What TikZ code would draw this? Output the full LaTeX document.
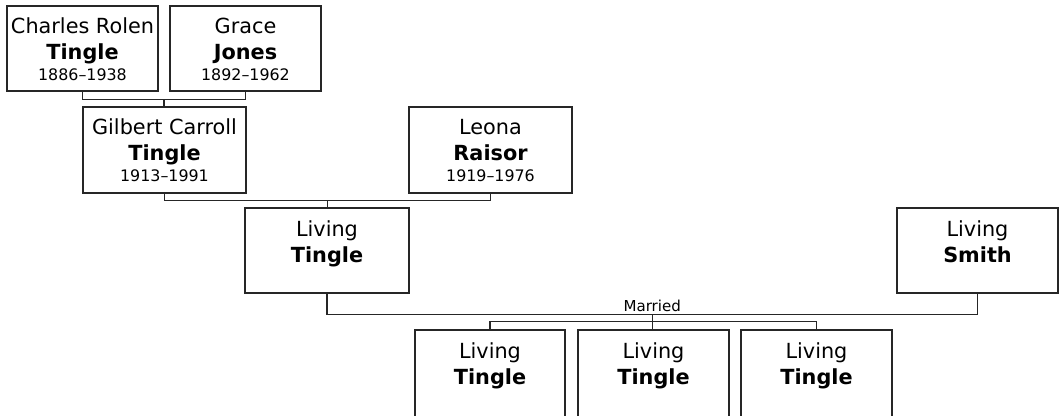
\documentclass[tikz,border=0pt]{standalone}
\usepackage{fontspec}
\setmainfont{DejaVu Sans}
\usetikzlibrary{fit,calc}
\begin{document}
\begin{tikzpicture}[x=0.75pt,y=-0.75pt,
  box/.style={draw=black!85, line width=0.8pt, inner sep=0pt},
  conn/.style={draw=black!85, line width=0.8pt},
  given/.style={font=\fontsize{15.6}{18}\selectfont, anchor=base, inner sep=0pt},
  surname/.style={font=\bfseries\fontsize{15.6}{18}\selectfont, anchor=base, inner sep=0pt},
  years/.style={font=\fontsize{11.9}{14}\selectfont, anchor=base, inner sep=0pt},
  small/.style={font=\fontsize{11.3}{13}\selectfont, anchor=base, inner sep=0pt}]
\clip (0,0) rectangle (1062,415);
\fill[white] (0,0) rectangle (1062,415);

% boxes
\node[box, fit={(7,6) (158,91)}] (charles) {};
\node[box, fit={(170,6) (321,91)}] (grace) {};
\node[box, fit={(83,107) (246,193)}] (gilbert) {};
\node[box, fit={(409,107) (572,193)}] (leona) {};
\node[box, fit={(245,208) (409,293)}] (living) {};
\node[box, fit={(897,208) (1058,293)}] (smith) {};
\node[box, fit={(415,330) (565,417)}] (kid1) {};
\node[box, fit={(578,330) (729,417)}] (kid2) {};
\node[box, fit={(741,330) (892,417)}] (kid3) {};

% texts
\node[given]   (charles-g) at ($(charles.north)+(0,28)$) {Charles Rolen};
\node[surname] (charles-s) at ($(charles.north)+(0,54)$) {Tingle};
\node[years]   (charles-y) at ($(charles.north)+(0,75)$) {1886–1938};

\node[given]   (grace-g) at ($(grace.north)+(0,28)$) {Grace};
\node[surname] (grace-s) at ($(grace.north)+(0,54)$) {Jones};
\node[years]   (grace-y) at ($(grace.north)+(0,75)$) {1892–1962};

\node[given]   (gilbert-g) at ($(gilbert.north)+(0,28)$) {Gilbert Carroll};
\node[surname] (gilbert-s) at ($(gilbert.north)+(0,54)$) {Tingle};
\node[years]   (gilbert-y) at ($(gilbert.north)+(0,75)$) {1913–1991};

\node[given]   (leona-g) at ($(leona.north)+(0,28)$) {Leona};
\node[surname] (leona-s) at ($(leona.north)+(0,54)$) {Raisor};
\node[years]   (leona-y) at ($(leona.north)+(0,75)$) {1919–1976};

\node[given]   (living-g) at ($(living.north)+(0,29)$) {Living};
\node[surname] (living-s) at ($(living.north)+(0,55)$) {Tingle};

\node[given]   (smith-g) at ($(smith.north)+(0,29)$) {Living};
\node[surname] (smith-s) at ($(smith.north)+(0,55)$) {Smith};

\node[given]   (kid1-g) at ($(kid1.north)+(0,29)$) {Living};
\node[surname] (kid1-s) at ($(kid1.north)+(0,55)$) {Tingle};
\node[given]   (kid2-g) at ($(kid2.north)+(0,29)$) {Living};
\node[surname] (kid2-s) at ($(kid2.north)+(0,55)$) {Tingle};
\node[given]   (kid3-g) at ($(kid3.north)+(0,29)$) {Living};
\node[surname] (kid3-s) at ($(kid3.north)+(0,55)$) {Tingle};

% connectors
\draw[conn] (charles.south) -- ++(0,8) -| (grace.south);
\coordinate (p1) at ($(charles.south)!0.5!(grace.south)+(0,8)$);
\draw[conn] (p1) -- (p1 |- gilbert.north);

\draw[conn] (gilbert.south) -- ++(0,7) -| (leona.south);
\coordinate (p2) at ($(gilbert.south)!0.5!(leona.south)+(0,7)$);
\draw[conn] (p2) -- (p2 |- living.north);

\draw[conn] (living.south) -- ++(0,21) -| (smith.south);
\coordinate (p3) at ($(living.south)!0.5!(smith.south)+(0,21)$);
\node[small] (married) at ($(p3)+(0,-3)$) {Married};
\draw[conn] (p3) -- (p3 |- kid2.north);
\draw[conn] (kid1.north) -- ++(0,-8) -| (kid3.north);
\end{tikzpicture}
\end{document}
